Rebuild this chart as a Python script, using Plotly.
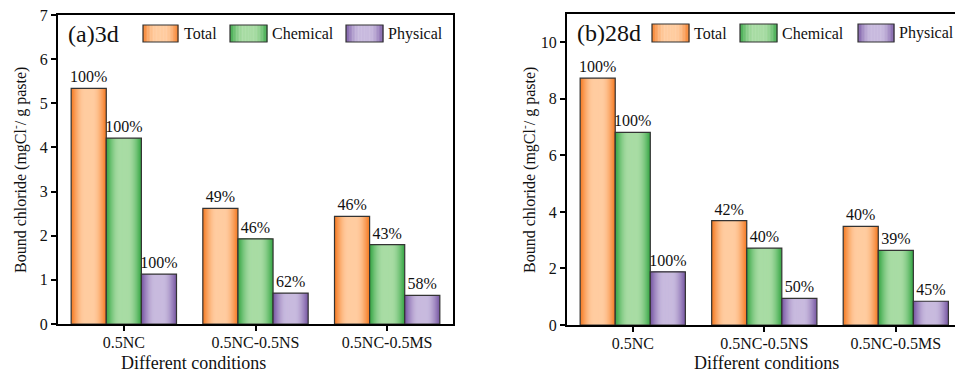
import math
import plotly.graph_objects as go

# ---- data ----
conditions = ["0.5NC", "0.5NC-0.5NS", "0.5NC-0.5MS"]
series_names = ["Total", "Chemical", "Physical"]

total_3d = [5.34, 2.62, 2.44]
chemical_3d = [4.21, 1.93, 1.80]
physical_3d = [1.13, 0.70, 0.65]
total_3d_pct = ["100%", "49%", "46%"]
chemical_3d_pct = ["100%", "46%", "43%"]
physical_3d_pct = ["100%", "62%", "58%"]

total_28d = [8.73, 3.69, 3.49]
chemical_28d = [6.81, 2.72, 2.64]
physical_28d = [1.88, 0.94, 0.84]
total_28d_pct = ["100%", "42%", "40%"]
chemical_28d_pct = ["100%", "40%", "39%"]
physical_28d_pct = ["100%", "50%", "45%"]

y_ticks_3d = [0, 1, 2, 3, 4, 5, 6, 7]
y_ticks_28d = [0, 2, 4, 6, 8, 10]

# ---- style ----
W, H = 955, 372
FONT = "Liberation Serif, Times New Roman, DejaVu Serif, serif"
# (edge colour, centre colour) for the cylinder-like shading
SHADES = {
    "Total": ((245, 125, 38), (255, 204, 160)),
    "Chemical": ((58, 168, 72), (168, 220, 164)),
    "Physical": ((122, 90, 165), (200, 186, 222)),
}
OUTLINE = "#333333"
N_LAYERS = 16
GROUP_W = 0.8
BAR_W = GROUP_W / 3


def mix(c0, c1, t):
    return "rgb(%d,%d,%d)" % tuple(round(a + (b - a) * t) for a, b in zip(c0, c1))


def shade(t):
    # t = 0 at the bar edge, 1 at the centre
    u = min(1.0, t / 0.75)
    return math.sin(u * math.pi / 2)


def px(x):
    return x / W


def py(y):
    return 1 - y / H


fig = go.Figure()

panels = [
    dict(xa="x", ya="y",
         vals=[total_3d, chemical_3d, physical_3d],
         pcts=[total_3d_pct, chemical_3d_pct, physical_3d_pct]),
    dict(xa="x2", ya="y2",
         vals=[total_28d, chemical_28d, physical_28d],
         pcts=[total_28d_pct, chemical_28d_pct, physical_28d_pct]),
]

for p in panels:
    for k, name in enumerate(series_names):
        edge, centre = SHADES[name]
        centre_off = -GROUP_W / 2 + BAR_W * (k + 0.5)
        # shaded layers, widest (edge colour) first
        for j in range(N_LAYERS):
            frac = 1 - j / N_LAYERS
            w = BAR_W * frac
            t = 1 - frac
            fig.add_trace(go.Bar(
                x=list(range(len(conditions))), y=p["vals"][k],
                xaxis=p["xa"], yaxis=p["ya"],
                width=w, offset=centre_off - w / 2,
                marker=dict(color=mix(edge, centre, shade(t)), line=dict(width=0)),
                showlegend=False, hoverinfo="skip",
            ))
        # outline + value labels
        fig.add_trace(go.Bar(
            x=list(range(len(conditions))), y=p["vals"][k],
            xaxis=p["xa"], yaxis=p["ya"],
            width=BAR_W, offset=centre_off - BAR_W / 2,
            marker=dict(color="rgba(0,0,0,0)", line=dict(color=OUTLINE, width=1.2)),
            text=p["pcts"][k], textposition="outside", constraintext="none",
            textfont=dict(family=FONT, size=16, color="#111"),
            cliponaxis=False, showlegend=False, name=name,
        ))

axis_common = dict(
    showline=True, linecolor="black", linewidth=2,
    ticks="outside", ticklen=5, tickwidth=2, tickcolor="black",
    tickfont=dict(family=FONT, size=16, color="#111"),
    showgrid=False, zeroline=False, automargin=False,
)

fig.update_layout(
    width=W, height=H,
    margin=dict(l=0, r=0, t=0, b=0),
    paper_bgcolor="white", plot_bgcolor="white",
    barmode="overlay",
    showlegend=False,
    font=dict(family=FONT, color="#111"),
    xaxis=dict(domain=[px(58), px(453)], range=[-0.5, 2.5],
               tickvals=[0, 1, 2], ticktext=conditions, mirror=True,
               ticklabelstandoff=-2, anchor="y", **axis_common),
    yaxis=dict(domain=[py(324), py(15)], range=[0, 7], tickvals=y_ticks_3d,
               mirror=True, anchor="x", **axis_common),
    xaxis2=dict(domain=[px(567), 1.0], range=[-0.5, 2.45],
                tickvals=[0, 1, 2], ticktext=conditions, mirror=True,
                ticklabelstandoff=-2, anchor="y2", **axis_common),
    yaxis2=dict(domain=[py(325), py(14)], range=[0, 11], tickvals=y_ticks_28d,
                mirror=False, anchor="x2", **axis_common),
)

annotations = []
shapes = []

# axis titles
for xc, yc in [(193, 363), (766, 363)]:
    annotations.append(dict(x=px(xc), y=py(yc), xref="paper", yref="paper",
                            text="Different conditions", showarrow=False,
                            font=dict(family=FONT, size=18, color="#111"),
                            xanchor="center", yanchor="middle"))
for xc, yc in [(19, 170), (528, 170)]:
    annotations.append(dict(x=px(xc), y=py(yc), xref="paper", yref="paper",
                            text="Bound chloride (mgCl<sup>-</sup>/ g paste)",
                            textangle=-90, showarrow=False,
                            font=dict(family=FONT, size=16, color="#111"),
                            xanchor="center", yanchor="middle"))


def swatch(x0, x1, y0, y1, name, strips=24):
    edge, centre = SHADES[name]
    dw = (x1 - x0) / strips
    for i in range(strips):
        xm = (i + 0.5) / strips
        t = 1 - abs(xm - 0.5) * 2
        shapes.append(dict(type="rect", xref="paper", yref="paper",
                           x0=px(x0 + i * dw), x1=px(x0 + (i + 1) * dw + 0.4),
                           y0=py(y1), y1=py(y0), line=dict(width=0),
                           fillcolor=mix(edge, centre, shade(t)), layer="above"))
    shapes.append(dict(type="rect", xref="paper", yref="paper",
                       x0=px(x0), x1=px(x1), y0=py(y1), y1=py(y0),
                       line=dict(color=OUTLINE, width=1.2), layer="above"))


def label(x, y, text, size=16):
    annotations.append(dict(x=px(x), y=py(y), xref="paper", yref="paper",
                            text=text, showarrow=False,
                            font=dict(family=FONT, size=size, color="#111"),
                            xanchor="left", yanchor="middle"))


# panel (a) header and legend
label(66, 34, "(a)3d", 24)
for (sx0, sx1, tx), name in zip([(143, 178, 182), (230, 267, 270), (346, 383, 386)], series_names):
    swatch(sx0, sx1, 25, 42, name)
    label(tx, 33.5, name)

# panel (b) header and legend
label(575, 33, "(b)28d", 24)
for (sx0, sx1, tx), name in zip([(652, 689, 692), (740, 777, 780), (858, 894, 897)], series_names):
    swatch(sx0, sx1, 24, 42, name)
    label(tx, 33, name)

fig.update_layout(annotations=annotations, shapes=shapes)

fig.write_html("out.html")
